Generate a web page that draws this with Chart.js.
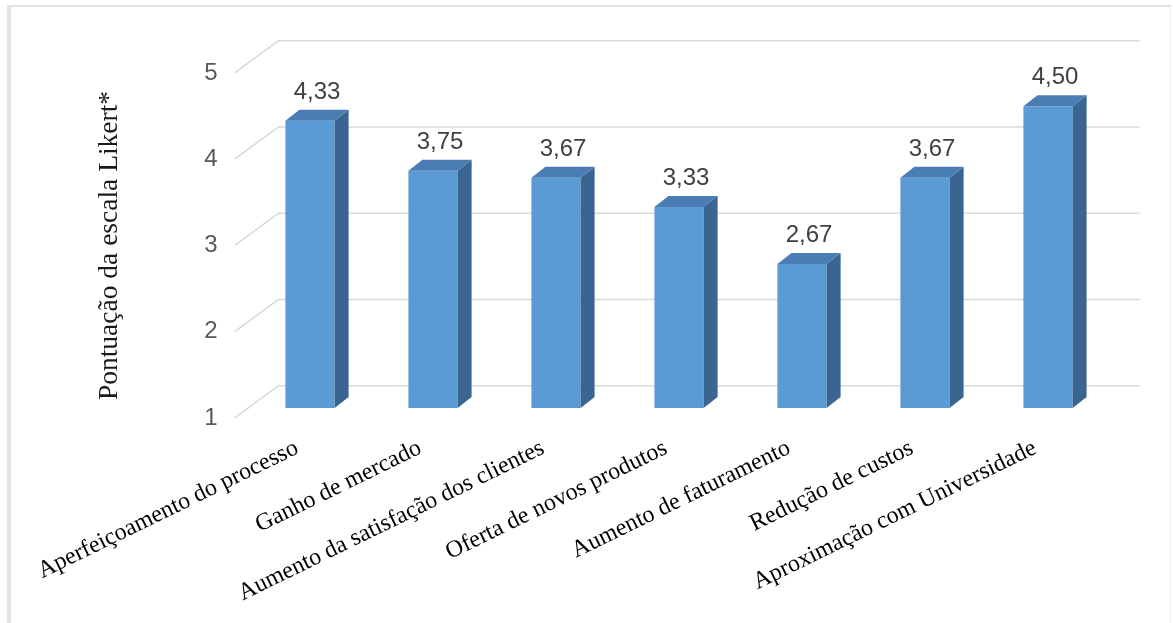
<!DOCTYPE html>
<html>
<head>
<meta charset="utf-8">
<script src="https://cdn.jsdelivr.net/npm/chart.js@4"></script>
<style>
  body { margin: 0; background: #fff; }
  canvas { display: block; }
</style>
</head>
<body>
<canvas id="likertChart" width="1173" height="623"></canvas>
<script>
// ========================================
// Likert score bar chart (3D look)
// ========================================

const categories = [
  'Aperfeiçoamento do processo',
  'Ganho de mercado',
  'Aumento da satisfação dos clientes',
  'Oferta de novos produtos',
  'Aumento de faturamento',
  'Redução de custos',
  'Aproximação com Universidade'
];
const scores = [4.33, 3.75, 3.67, 3.33, 2.67, 3.67, 4.50];
const yTicks = [1, 2, 3, 4, 5];
const yTitle = 'Pontuação da escala Likert*';

// depth offsets for the fake 3D
const FRONT = { dx: -13.5, dy: 9.7 };
const BACK = { dx: 30, dy: -22.3 };
const BAR_DEPTH = { dx: 14, dy: -11 };

// Frame around the picture + axis title
const framePlugin = {
  id: 'frame',
  beforeDraw(chart) {
    const ctx = chart.ctx;
    ctx.save();
    ctx.fillStyle = '#fff';
    ctx.fillRect(0, 0, chart.width, chart.height);
    ctx.fillStyle = '#e4e4e4';
    ctx.fillRect(7, 5, 1164, 2);
    ctx.fillRect(7, 5, 4, chart.height - 5);
    ctx.fillStyle = '#ececec';
    ctx.fillRect(1170, 5, 1, chart.height - 5);
    ctx.restore();
  },
  afterDraw(chart) {
    const ctx = chart.ctx;
    ctx.save();
    ctx.translate(117, 245.5);
    ctx.rotate(-Math.PI / 2);
    ctx.font = '27.5px "Liberation Serif", "Times New Roman", serif';
    ctx.fillStyle = '#1a1a1a';
    ctx.textAlign = 'center';
    ctx.textBaseline = 'alphabetic';
    ctx.fillText(yTitle, 0, 0);
    ctx.restore();
  }
};

// Floor + back wall lines
const wallPlugin = {
  id: 'walls',
  beforeDatasetsDraw(chart) {
    const { ctx, chartArea, scales } = chart;
    ctx.save();
    ctx.strokeStyle = '#d9d9d9';
    ctx.lineWidth = 1.6;
    yTicks.forEach(v => {
      const y = scales.y.getPixelForValue(v);
      ctx.beginPath();
      ctx.moveTo(chartArea.left + FRONT.dx, y + FRONT.dy);
      ctx.lineTo(chartArea.left + BACK.dx, y + BACK.dy);
      ctx.lineTo(chartArea.right + BACK.dx, y + BACK.dy);
      ctx.stroke();
    });
    ctx.restore();
  }
};

// Side / top faces and value labels
const barFacesPlugin = {
  id: 'barFaces',
  afterDatasetsDraw(chart) {
    const ctx = chart.ctx;
    const meta = chart.getDatasetMeta(0);
    ctx.save();
    meta.data.forEach((bar, i) => {
      const left = bar.x - bar.width / 2;
      const right = bar.x + bar.width / 2;
      const top = bar.y;
      const base = Math.min(bar.base, chart.chartArea.bottom);

      // side face
      ctx.fillStyle = '#3a6591';
      ctx.beginPath();
      ctx.moveTo(right, top);
      ctx.lineTo(right + BAR_DEPTH.dx, top + BAR_DEPTH.dy);
      ctx.lineTo(right + BAR_DEPTH.dx, base + BAR_DEPTH.dy);
      ctx.lineTo(right, base);
      ctx.closePath();
      ctx.fill();

      // top face
      ctx.fillStyle = '#4b7db5';
      ctx.beginPath();
      ctx.moveTo(left, top);
      ctx.lineTo(left + BAR_DEPTH.dx, top + BAR_DEPTH.dy);
      ctx.lineTo(right + BAR_DEPTH.dx, top + BAR_DEPTH.dy);
      ctx.lineTo(right, top);
      ctx.closePath();
      ctx.fill();

      // value label
      ctx.font = '24px "Liberation Sans", Arial, sans-serif';
      ctx.fillStyle = '#404040';
      ctx.textAlign = 'center';
      ctx.textBaseline = 'alphabetic';
      ctx.fillText(scores[i].toFixed(2).replace('.', ','), bar.x + BAR_DEPTH.dx / 2, top - 22);
    });
    ctx.restore();
  }
};

function drawChart() {
  const ctx = document.getElementById('likertChart');
  new Chart(ctx, {
    type: 'bar',
    data: {
      labels: categories,
      datasets: [{
        data: scores,
        backgroundColor: '#5b9bd5',
        borderWidth: 0,
        categoryPercentage: 1,
        barPercentage: 0.4
      }]
    },
    options: {
      responsive: false,
      animation: false,
      layout: { padding: { top: 63, right: 63.5, left: 0, bottom: 0 } },
      plugins: {
        legend: { display: false },
        tooltip: { enabled: false }
      },
      scales: {
        x: {
          grid: { display: false, drawTicks: false },
          border: { display: false },
          ticks: {
            autoSkip: false,
            minRotation: 26,
            maxRotation: 26,
            padding: 26,
            labelOffset: -13,
            color: '#000',
            font: { family: '"Liberation Serif", "Times New Roman", serif', size: 24 }
          },
          afterFit: s => { s.height = 215; }
        },
        y: {
          min: 1,
          max: 5,
          grid: { display: false, drawTicks: false },
          border: { display: false },
          ticks: {
            stepSize: 1,
            padding: 31,
            labelOffset: 10,
            color: '#595959',
            font: { family: '"Liberation Sans", Arial, sans-serif', size: 24 }
          },
          afterFit: s => { s.width = 248.5; }
        }
      }
    },
    plugins: [framePlugin, wallPlugin, barFacesPlugin]
  });
}

document.addEventListener('DOMContentLoaded', drawChart);
</script>
</body>
</html>
